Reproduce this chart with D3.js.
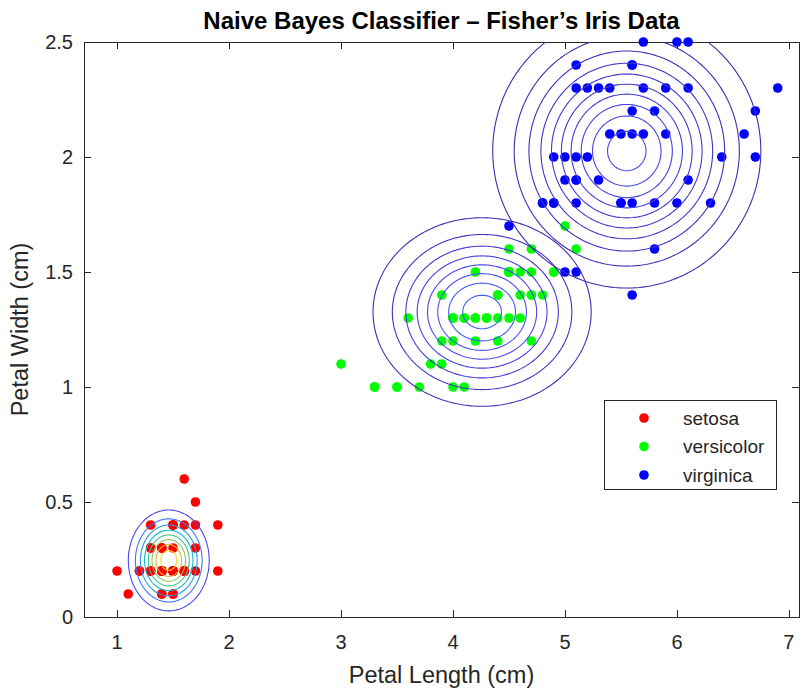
<!DOCTYPE html>
<html lang="en">
<head>
<meta charset="UTF-8">
<title>Naive Bayes Classifier - Fisher's Iris Data</title>
<script src="https://d3js.org/d3.v7.min.js"></script>
<style>
  body { margin: 0; background: #fff; }
  text { font-family: Arial, "Liberation Sans", Helvetica, sans-serif; }
</style>
</head>
<body>
<svg id="chart" width="802" height="691"></svg>
<script>
// Fisher's iris, petal length / petal width per species
var species = ["setosa", "versicolor", "virginica"];

var setosaLength = [1.4,1.4,1.3,1.5,1.4,1.7,1.4,1.5,1.4,1.5,1.5,1.6,1.4,1.1,1.2,1.5,1.3,1.4,1.7,1.5,
                    1.7,1.5,1.0,1.7,1.9,1.6,1.6,1.5,1.4,1.6,1.6,1.5,1.5,1.4,1.5,1.2,1.3,1.4,1.3,1.5,
                    1.3,1.3,1.3,1.6,1.9,1.4,1.6,1.4,1.5,1.4];
var setosaWidth  = [0.2,0.2,0.2,0.2,0.2,0.4,0.3,0.2,0.2,0.1,0.2,0.2,0.1,0.1,0.2,0.4,0.4,0.3,0.3,0.3,
                    0.2,0.4,0.2,0.5,0.2,0.2,0.4,0.2,0.2,0.2,0.2,0.4,0.1,0.2,0.2,0.2,0.2,0.1,0.2,0.2,
                    0.3,0.3,0.2,0.6,0.4,0.3,0.2,0.2,0.2,0.2];

var versicolorLength = [4.7,4.5,4.9,4.0,4.6,4.5,4.7,3.3,4.6,3.9,3.5,4.2,4.0,4.7,3.6,4.4,4.5,4.1,4.5,3.9,
                        4.8,4.0,4.9,4.7,4.3,4.4,4.8,5.0,4.5,3.5,3.8,3.7,3.9,5.1,4.5,4.5,4.7,4.4,4.1,4.0,
                        4.4,4.6,4.0,3.3,4.2,4.2,4.2,4.3,3.0,4.1];
var versicolorWidth  = [1.4,1.5,1.5,1.3,1.5,1.3,1.6,1.0,1.3,1.4,1.0,1.5,1.0,1.4,1.3,1.4,1.5,1.0,1.5,1.1,
                        1.8,1.3,1.5,1.2,1.3,1.4,1.4,1.7,1.5,1.0,1.1,1.0,1.2,1.6,1.5,1.6,1.5,1.3,1.3,1.3,
                        1.2,1.4,1.2,1.0,1.3,1.2,1.3,1.3,1.1,1.3];

var virginicaLength = [6.0,5.1,5.9,5.6,5.8,6.6,4.5,6.3,5.8,6.1,5.1,5.3,5.5,5.0,5.1,5.3,5.5,6.7,6.9,5.0,
                       5.7,4.9,6.7,4.9,5.7,6.0,4.8,4.9,5.6,5.8,6.1,6.4,5.6,5.1,5.6,6.1,5.6,5.5,4.8,5.4,
                       5.6,5.1,5.1,5.9,5.7,5.2,5.0,5.2,5.4,5.1];
var virginicaWidth  = [2.5,1.9,2.1,1.8,2.2,2.1,1.7,1.8,1.8,2.5,2.0,1.9,2.1,2.0,2.4,2.3,1.8,2.2,2.3,1.5,
                       2.3,2.0,2.0,1.8,2.1,1.8,1.8,1.8,2.1,1.6,1.9,2.0,2.2,1.5,1.4,2.3,2.4,1.8,1.8,2.1,
                       2.4,2.3,1.9,2.3,2.5,2.3,1.9,2.0,2.3,1.8];

// contour levels of each class density
var setosaLevels     = [1, 2, 3, 4, 5, 6, 7, 8];
var versicolorLevels = [0.2, 0.4, 0.6, 0.8, 1.0, 1.2, 1.4, 1.6];
var virginicaLevels  = [0.1, 0.2, 0.3, 0.4, 0.5, 0.6, 0.7, 0.8, 0.9, 1.0];

var xTicks = [1, 2, 3, 4, 5, 6, 7];
var yTicks = [0, 0.5, 1, 1.5, 2, 2.5];

var classes = [
  { name: "setosa",     len: setosaLength,     wid: setosaWidth,     levels: setosaLevels,     color: "#ff0000" },
  { name: "versicolor", len: versicolorLength, wid: versicolorWidth, levels: versicolorLevels, color: "#00ff00" },
  { name: "virginica",  len: virginicaLength,  wid: virginicaWidth,  levels: virginicaLevels,  color: "#0000ff" }
];

var svg = d3.select("#chart");
var plotLeft = 84, plotRight = 799, plotTop = 42, plotBottom = 617;

var x = d3.scaleLinear().domain([0.705, 7.09]).range([plotLeft, plotRight]);
var y = d3.scaleLinear().domain([0, 2.5]).range([plotBottom, plotTop]);

var axisColor = "#262626";

// parula colormap
var parula = d3.scaleLinear()
  .domain(d3.range(10).map(function(i) { return i / 9; }))
  .range(["#3e26a8", "#4847eb", "#3e6fff", "#2797eb", "#08b5d0",
          "#31c69f", "#80cc59", "#d0bb30", "#fec932", "#f9fb0e"]);

svg.append("defs").append("clipPath").attr("id", "plotclip")
  .append("rect").attr("x", plotLeft).attr("y", plotTop)
  .attr("width", plotRight - plotLeft).attr("height", plotBottom - plotTop);

// axes box and ticks
svg.append("rect")
  .attr("x", plotLeft + 0.5).attr("y", plotTop + 0.5)
  .attr("width", plotRight - plotLeft).attr("height", plotBottom - plotTop)
  .attr("fill", "none").attr("stroke", axisColor).attr("stroke-width", 1);

var tickLen = 7;
xTicks.forEach(function(t) {
  var px = Math.round(x(t)) + 0.5;
  svg.append("line").attr("x1", px).attr("x2", px).attr("y1", plotBottom).attr("y2", plotBottom - tickLen)
    .attr("stroke", axisColor);
  svg.append("line").attr("x1", px).attr("x2", px).attr("y1", plotTop).attr("y2", plotTop + tickLen)
    .attr("stroke", axisColor);
  svg.append("text").attr("x", x(t)).attr("y", 649)
    .attr("text-anchor", "middle").attr("font-size", 20).attr("fill", axisColor)
    .text(t);
});
yTicks.forEach(function(t) {
  var py = Math.round(y(t)) + 0.5;
  svg.append("line").attr("x1", plotLeft).attr("x2", plotLeft + tickLen).attr("y1", py).attr("y2", py)
    .attr("stroke", axisColor);
  svg.append("line").attr("x1", plotRight).attr("x2", plotRight - tickLen).attr("y1", py).attr("y2", py)
    .attr("stroke", axisColor);
  svg.append("text").attr("x", 73).attr("y", y(t)).attr("dy", "0.35em")
    .attr("text-anchor", "end").attr("font-size", 20).attr("fill", axisColor)
    .text(t);
});

// scatter points
classes.forEach(function(c) {
  svg.append("g").selectAll("circle")
    .data(d3.range(c.len.length))
    .join("circle")
    .attr("cx", function(i) { return x(c.len[i]); })
    .attr("cy", function(i) { return y(c.wid[i]); })
    .attr("r", 4.8)
    .attr("fill", c.color);
});

// gaussian density per class (diagonal covariance)
var n = 161;
var grids = classes.map(function(c) {
  var mx = d3.mean(c.len), my = d3.mean(c.wid);
  var sx = d3.deviation(c.len), sy = d3.deviation(c.wid);
  var x0 = mx - 4 * sx, y0 = my - 4 * sy;
  var dx = 8 * sx / (n - 1), dy = 8 * sy / (n - 1);
  var values = new Array(n * n);
  for (var j = 0; j < n; j++) {
    for (var i = 0; i < n; i++) {
      var u = (x0 + i * dx - mx) / sx, v = (y0 + j * dy - my) / sy;
      values[j * n + i] = Math.exp(-0.5 * (u * u + v * v)) / (2 * Math.PI * sx * sy);
    }
  }
  return { x0: x0, y0: y0, dx: dx, dy: dy, values: values, levels: c.levels };
});

var zMax = d3.max(grids, function(g) { return d3.max(g.values); });

var contourLayer = svg.append("g").attr("clip-path", "url(#plotclip)");
grids.forEach(function(g) {
  var path = d3.geoPath(d3.geoTransform({
    point: function(gx, gy) {
      this.stream.point(x(g.x0 + (gx - 0.5) * g.dx), y(g.y0 + (gy - 0.5) * g.dy));
    }
  }));
  var contours = d3.contours().size([n, n]).thresholds(g.levels)(g.values);
  contourLayer.append("g").selectAll("path")
    .data(contours)
    .join("path")
    .attr("d", path)
    .attr("fill", "none")
    .attr("stroke", function(d) { return parula(d.value / zMax); })
    .attr("stroke-width", 1.1);
});

// title and labels
svg.append("text").attr("x", (plotLeft + plotRight) / 2).attr("y", 29)
  .attr("text-anchor", "middle").attr("font-size", 24).attr("font-weight", "bold")
  .attr("fill", "#000")
  .text("Naive Bayes Classifier \u2013 Fisher\u2019s Iris Data");

svg.append("text").attr("x", (plotLeft + plotRight) / 2).attr("y", 683)
  .attr("text-anchor", "middle").attr("font-size", 23.5).attr("fill", axisColor)
  .text("Petal Length (cm)");

svg.append("text")
  .attr("transform", "translate(28," + ((plotTop + plotBottom) / 2) + ") rotate(-90)")
  .attr("text-anchor", "middle").attr("font-size", 23.5).attr("fill", axisColor)
  .text("Petal Width (cm)");

// legend
var legend = svg.append("g");
legend.append("rect")
  .attr("x", 604.5).attr("y", 400.5).attr("width", 172).attr("height", 89)
  .attr("fill", "#fff").attr("stroke", axisColor).attr("stroke-width", 1);
species.forEach(function(s, k) {
  var ly = 418 + k * 28.5;
  legend.append("circle").attr("cx", 644).attr("cy", ly).attr("r", 4.8)
    .attr("fill", classes[k].color);
  legend.append("text").attr("x", 683).attr("y", ly).attr("dy", "0.35em")
    .attr("font-size", 19).attr("fill", axisColor)
    .text(s);
});
</script>
</body>
</html>
